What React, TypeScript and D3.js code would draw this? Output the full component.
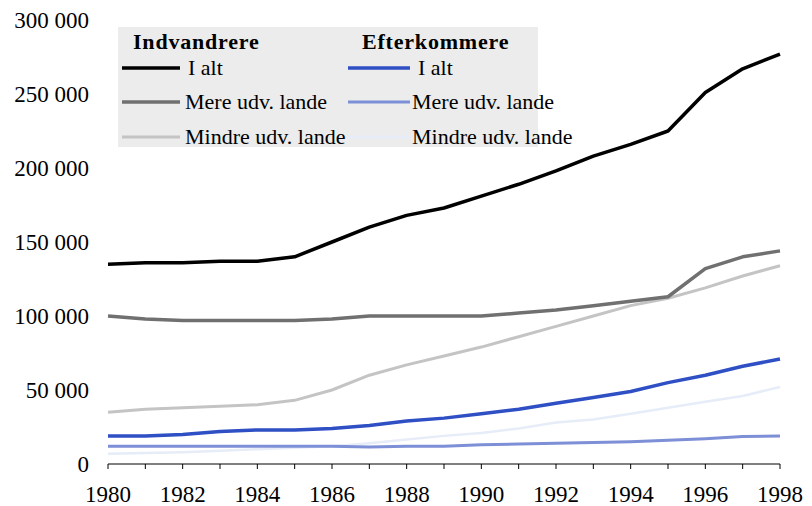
import * as d3 from "d3";

const years = d3.range(1980, 1999);

// Indvandrere
const indIalt = [135000, 136000, 136000, 137000, 137000, 140000, 150000, 160000, 168000, 173000, 181000, 189000, 198000, 208000, 216000, 225000, 251000, 267000, 277000];
const indMere = [100000, 98000, 97000, 97000, 97000, 97000, 98000, 100000, 100000, 100000, 100000, 102000, 104000, 107000, 110000, 113000, 132000, 140000, 144000];
const indMindre = [35000, 37000, 38000, 39000, 40000, 43000, 50000, 60000, 67000, 73000, 79000, 86000, 93000, 100000, 107000, 112000, 119000, 127000, 134000];

// Efterkommere
const eftIalt = [19000, 19000, 20000, 22000, 23000, 23000, 24000, 26000, 29000, 31000, 34000, 37000, 41000, 45000, 49000, 55000, 60000, 66000, 71000];
const eftMere = [12000, 12000, 12000, 12000, 12000, 12000, 12000, 11500, 12000, 12000, 13000, 13500, 14000, 14500, 15000, 16000, 17000, 18500, 19000];
const eftMindre = [7000, 7500, 8000, 9000, 10000, 11000, 12000, 14000, 16500, 19000, 21000, 24000, 28000, 30000, 34000, 38000, 42000, 46000, 52000];

const yTicks = [0, 50000, 100000, 150000, 200000, 250000, 300000];
const xLabels = d3.range(1980, 1999, 2);

const series = [
  { name: "Mindre udv. lande", values: eftMindre, color: "#e6ecf8", width: 2.5 },
  { name: "Mere udv. lande", values: eftMere, color: "#7d8fd6", width: 3 },
  { name: "I alt", values: eftIalt, color: "#2f4fc4", width: 3.5 },
  { name: "Mindre udv. lande", values: indMindre, color: "#c4c4c4", width: 3 },
  { name: "Mere udv. lande", values: indMere, color: "#707070", width: 3.5 },
  { name: "I alt", values: indIalt, color: "#000000", width: 3.5 },
];

const W = 812;
const H = 506;
const font = "Liberation Serif, Times New Roman, DejaVu Serif, serif";

export default function App() {
  const x = d3.scaleLinear().domain([1980, 1998]).range([108, 780]);
  const y = d3.scaleLinear().domain([0, 300000]).range([464, 20]);
  const line = d3
    .line<number>()
    .x((_, i) => x(years[i]))
    .y((d) => y(d));

  const legendLeft = [series[5], series[4], series[3]];
  const legendRight = [series[2], series[1], series[0]];
  const rowY = [68, 102, 137];

  return (
    <svg
      width={W}
      height={H}
      style={{ position: "absolute", left: 0, top: 0, background: "#fff", fontFamily: font }}
    >
      {/* legend box */}
      <rect x={118} y={27} width={420} height={120} fill="#ececec" />
      <text x={133} y={49} fontSize={22} fontWeight="bold" letterSpacing={0.8}>
        Indvandrere
      </text>
      <text x={362} y={49} fontSize={22} fontWeight="bold" letterSpacing={0.8}>
        Efterkommere
      </text>
      {legendLeft.map((s, i) => (
        <g key={"l" + i}>
          <line x1={122} x2={180} y1={rowY[i]} y2={rowY[i]} stroke={s.color} strokeWidth={s.width} />
          <text x={i === 0 ? 188 : 185} y={rowY[i] + 7} fontSize={22}>
            {s.name}
          </text>
        </g>
      ))}
      {legendRight.map((s, i) => (
        <g key={"r" + i}>
          <line x1={348} x2={410} y1={rowY[i]} y2={rowY[i]} stroke={s.color} strokeWidth={s.width} />
          <text x={i === 0 ? 418 : 412} y={rowY[i] + 7} fontSize={22}>
            {s.name}
          </text>
        </g>
      ))}

      {/* y labels */}
      {yTicks.map((t) => (
        <text key={t} x={89} y={y(t)} dy="0.35em" textAnchor="end" fontSize={23}>
          {d3.format(",")(t).replace(/,/g, " ")}
        </text>
      ))}

      {/* x axis */}
      <line x1={x(1980)} x2={x(1998)} y1={y(0)} y2={y(0)} stroke="#000" strokeWidth={1} />
      {years.map((yr) => (
        <line key={yr} x1={x(yr)} x2={x(yr)} y1={y(0)} y2={y(0) + 5} stroke="#000" strokeWidth={1} />
      ))}
      {xLabels.map((yr) => (
        <text key={yr} x={x(yr)} y={502} textAnchor="middle" fontSize={23}>
          {yr}
        </text>
      ))}

      {/* series */}
      {series.map((s, i) => (
        <path
          key={i}
          d={line(s.values) ?? ""}
          fill="none"
          stroke={s.color}
          strokeWidth={s.width}
          strokeLinejoin="round"
        />
      ))}
    </svg>
  );
}
